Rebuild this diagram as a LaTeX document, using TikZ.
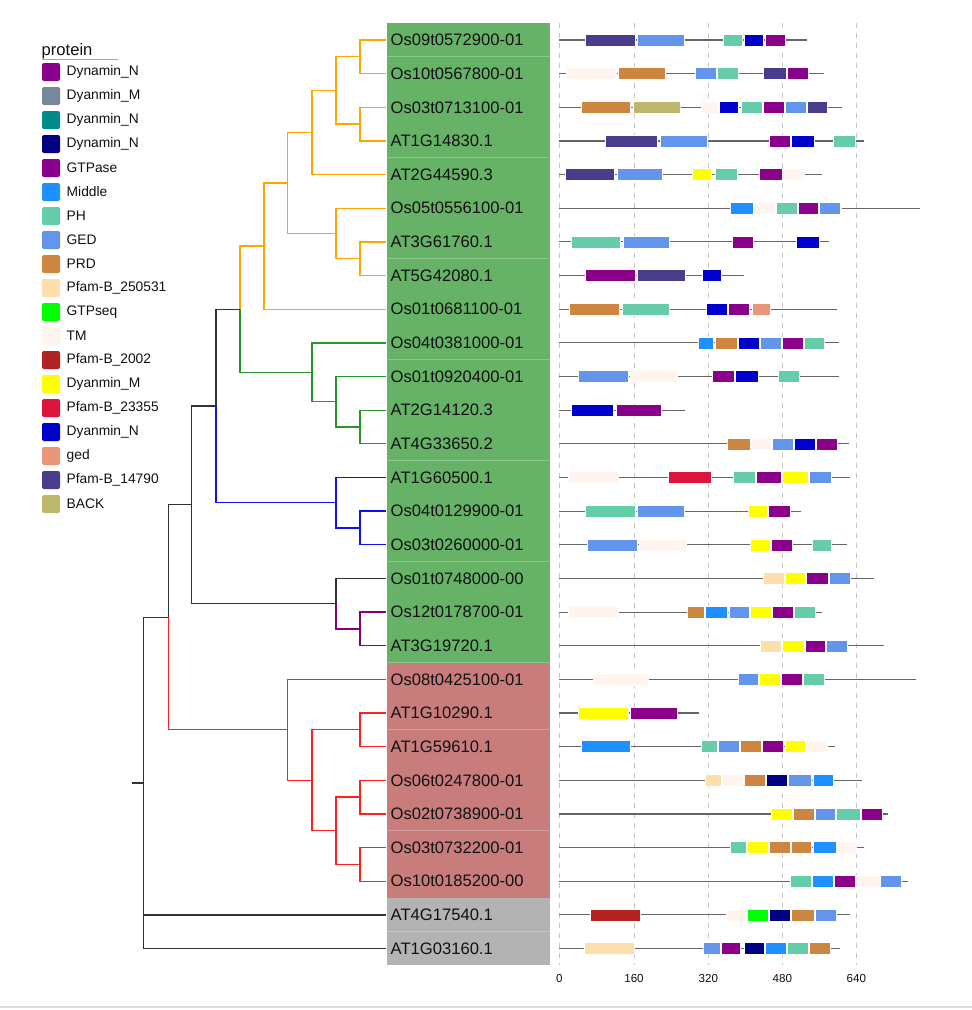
\documentclass[tikz,border=0pt]{standalone}
\usepackage{fontspec}
\setmainfont{Liberation Sans}
\definecolor{gtp}{HTML}{8B008B}
\definecolor{mid}{HTML}{1E90FF}
\definecolor{ph}{HTML}{66CDAA}
\definecolor{ged}{HTML}{6495ED}
\definecolor{prd}{HTML}{CD853F}
\definecolor{pbtf}{HTML}{FFDEAD}
\definecolor{gseq}{HTML}{00FF00}
\definecolor{tm}{HTML}{FFF5EE}
\definecolor{pbtw}{HTML}{B22222}
\definecolor{dym}{HTML}{FFFF00}
\definecolor{pbtt}{HTML}{DC143C}
\definecolor{dnb}{HTML}{0000CD}
\definecolor{gedl}{HTML}{E9967A}
\definecolor{pbft}{HTML}{483D8B}
\definecolor{back}{HTML}{BDB76B}
\definecolor{dnv}{HTML}{000080}
\definecolor{slate}{HTML}{778899}
\definecolor{dcyan}{HTML}{008B8B}
\definecolor{labgreen}{HTML}{66B266}
\definecolor{labred}{HTML}{C87C7C}
\definecolor{labgray}{HTML}{B3B3B3}
\definecolor{torange}{HTML}{FFA500}
\definecolor{tgreen}{HTML}{2A962A}
\definecolor{tblue}{HTML}{1010F0}
\definecolor{tpurple}{HTML}{800080}
\definecolor{tred}{HTML}{FF2020}
\definecolor{tblack}{HTML}{333333}
\definecolor{txt}{HTML}{111111}
\tikzset{
  bb/.style={draw=black!60,line width=1.1pt},
  dombox/.style={draw=white,line width=0.4pt},
  br/.style={line width=1.3pt},
  bor/.style={br,draw=torange},
  bgr/.style={br,draw=tgreen},
  bbl/.style={br,draw=tblue},
  bpu/.style={br,draw=tpurple},
  bre/.style={br,draw=tred},
  bbk/.style={br,draw=tblack},
  lab/.style={anchor=west,inner sep=0pt,text=txt,font=\fontsize{16.6}{18}\selectfont},
  leg/.style={anchor=west,inner sep=0pt,text=txt,font=\fontsize{13.8}{15}\selectfont},
  tick/.style={inner sep=0pt,text=txt,font=\fontsize{11.6}{13}\selectfont},
  grid/.style={draw=black!22,line width=0.9pt,dash pattern=on 5pt off 5pt}
}
\newcommand\prot[3]{%
  \pgfmathsetmacro\ry{40+(#1-1)*33.65}%
  \draw[bb] (559.3,\ry) -- ({550+#2/3},\ry);%
  \foreach \a/\b/\c in {#3}{\path[dombox,fill=\c] ({550+\a/3},{\ry-6}) rectangle ({550+\b/3},{\ry+6});}%
}
\newcommand\labrow[3]{%
  \pgfmathsetmacro\ry{40+(#1-1)*33.65}%
  \path[fill=#2] (386.7,{\ry-16.825}) rectangle (550,{\ry+16.825});%
  \draw[white,opacity=0.25,line width=0.7pt] (386.7,{\ry+16.825}) -- (550,{\ry+16.825});%
  \node[lab] (t#1) at (390.5,\ry) {#3};%
  \coordinate (L#1) at (386,\ry);%
}
\begin{document}
\begin{tikzpicture}[x=1pt,y=-1pt]
\path[fill=white,use as bounding box] (0,0) rectangle (972,1010);
% grid
\foreach \gx/\gl in {559.3/0,634/160,708.3/320,782.3/480,856.3/640}{
  \draw[grid] (\gx,23) -- (\gx,965);
  \node[tick] (tick\gl) at (\gx,978) {\gl};
}
\draw[black!13,line width=1.5pt] (0,1007) -- (972,1007);
% label column
\foreach \i/\c/\t in {1/labgreen/Os09t0572900-01,2/labgreen/Os10t0567800-01,3/labgreen/Os03t0713100-01,4/labgreen/AT1G14830.1,5/labgreen/AT2G44590.3,6/labgreen/Os05t0556100-01,7/labgreen/AT3G61760.1,8/labgreen/AT5G42080.1,9/labgreen/Os01t0681100-01,10/labgreen/Os04t0381000-01,11/labgreen/Os01t0920400-01,12/labgreen/AT2G14120.3,13/labgreen/AT4G33650.2,14/labgreen/AT1G60500.1,15/labgreen/Os04t0129900-01,16/labgreen/Os03t0260000-01,17/labgreen/Os01t0748000-00,18/labgreen/Os12t0178700-01,19/labgreen/AT3G19720.1,20/labred/Os08t0425100-01,21/labred/AT1G10290.1,22/labred/AT1G59610.1,23/labred/Os06t0247800-01,24/labred/Os02t0738900-01,25/labred/Os03t0732200-01,26/labred/Os10t0185200-00,27/labgray/AT4G17540.1,28/labgray/AT1G03160.1}{
  \labrow{\i}{\c}{\t}
}
% proteins
\prot{1}{772}{106/255/pbft, 262/404/ged, 519/576/ph, 583/641/dnb, 645/705/gtp}
\prot{2}{822}{48/198/tm, 204/346/prd, 437/499/ged, 503/565/ph, 639/709/pbft, 713/775/gtp}
\prot{3}{875}{93/242/prd, 249/390/back, 454/505/tm, 508/564/dnb, 575/637/ph, 640/703/gtp, 706/768/ged, 771/832/pbft}
\prot{4}{941}{167/323/pbft, 330/471/ged, 659/720/gtp, 723/792/dnb, 850/915/ph}
\prot{5}{815}{45/193/pbft, 201/338/ged, 427/485/dym, 495/561/ph, 628/696/gtp, 698/762/tm}
\prot{6}{1109}{541/609/mid, 613/675/tm, 678/741/ph, 744/806/gtp, 808/870/ged, 870/875/dnb}
\prot{7}{837}{63/212/ph, 219/358/ged, 547/611/gtp, 739/808/dnb}
\prot{8}{583}{107/256/gtp, 263/405/pbft, 458/515/dnb}
\prot{9}{860}{57/209/prd, 216/358/ph, 468/531/dnb, 534/597/gtp, 606/662/gedl}
\prot{10}{866}{444/491/mid, 495/562/prd, 566/627/dnb, 631/693/ged, 696/759/gtp, 762/824/ph}
\prot{11}{866}{84/234/ged, 241/381/tm, 487/553/gtp, 557/625/dnb, 684/747/ph}
\prot{12}{405}{64/191/dnb, 198/335/gtp}
\prot{13}{898}{532/600/prd, 603/665/tm, 668/730/ged, 734/796/dnb, 800/862/gtp}
\prot{14}{900}{56/204/tm, 355/485/pbtt, 549/615/ph, 618/693/gtp, 696/774/dym, 779/844/ged}
\prot{15}{754}{106/255/ph, 262/404/ged, 594/653/dym, 656/720/gtp}
\prot{16}{890}{113/262/ged, 269/410/tm, 601/660/dym, 663/727/gtp, 788/845/ph}
\prot{17}{971}{639/702/pbtf, 705/767/dym, 770/835/gtp, 839/901/ged}
\prot{18}{815}{56/204/tm, 412/463/prd, 466/533/mid, 537/598/ged, 602/664/dym, 667/729/gtp, 732/795/ph}
\prot{19}{1001}{631/693/pbtf, 696/762/dym, 765/827/gtp, 830/892/ged}
\prot{20}{1097}{130/294/tm, 564/626/ged, 629/692/dym, 695/757/gtp, 760/822/ph}
\prot{21}{448}{85/234/dym, 241/383/gtp}
\prot{22}{855}{93/242/mid, 454/502/ph, 506/568/ged, 571/634/prd, 636/701/gtp, 705/767/dym, 770/832/tm}
\prot{23}{936}{466/513/pbtf, 517/580/tm, 584/646/prd, 649/711/dnv, 714/785/ged, 789/850/mid}
\prot{24}{1014}{664/726/dym, 729/792/prd, 795/857/ged, 860/931/ph, 935/997/gtp}
\prot{25}{943}{541/588/ph, 592/654/dym, 657/720/prd, 723/785/prd, 789/858/mid, 863/920/tm}
\prot{26}{1073}{722/784/ph, 788/850/mid, 853/916/gtp, 918/990/tm, 992/1055/ged}
\prot{27}{899}{120/271/pbtw, 528/590/tm, 593/655/gseq, 659/721/dnv, 724/793/prd, 797/860/ged}
\prot{28}{870}{103/252/pbtf, 461/512/ged, 515/571/gtp, 582/644/dnv, 647/710/mid, 713/776/ph, 779/841/prd}
% tree nodes
\coordinate (n12) at (360,56.83);
\coordinate (n34) at (360,124.13);
\coordinate (n1234) at (336,90.48);
\coordinate (n15) at (312,132.54);
\coordinate (n78) at (360,258.73);
\coordinate (n678) at (336,233.49);
\coordinate (n18) at (287.5,183.01);
\coordinate (n19) at (264,246.1);
\coordinate (n1213) at (360,426.98);
\coordinate (n1113) at (336,401.74);
\coordinate (n1013) at (312,372.3);
\coordinate (n113) at (240,309.2);
\coordinate (n1516) at (360,527.93);
\coordinate (n1416) at (336,502.69);
\coordinate (n116) at (216,405.95);
\coordinate (n1819) at (360,628.88);
\coordinate (n1719) at (336,603.64);
\coordinate (n119) at (191.7,504.8);
\coordinate (n2122) at (360,729.83);
\coordinate (n2324) at (360,797.13);
\coordinate (n2526) at (360,864.43);
\coordinate (n2326) at (336,830.78);
\coordinate (n2126) at (312,780.3);
\coordinate (n2026) at (287.7,729.83);
\coordinate (n126) at (168.3,617.3);
\coordinate (root) at (143.7,782.9);
\coordinate (rootstub) at (131.7,782.9);
% orange
\foreach \p/\c in {n12/L1,n12/L2,n34/L3,n34/L4,n1234/n12,n1234/n34,n15/n1234,n15/L5,n78/L7,n78/L8,n678/L6,n678/n78,n18/n15,n18/n678,n19/n18,n19/L9,n113/n19}{\draw[bor] (\p) |- (\c);}
% green
\foreach \p/\c in {n113/n1013,n1013/L10,n1013/n1113,n1113/L11,n1113/n1213,n1213/L12,n1213/L13}{\draw[bgr] (\p) |- (\c);}
% blue
\foreach \p/\c in {n116/n1416,n1416/L14,n1416/n1516,n1516/L15,n1516/L16}{\draw[bbl] (\p) |- (\c);}
% purple
\foreach \p/\c in {n1719/n1819,n1819/L18,n1819/L19}{\draw[bpu] (\p) |- (\c);}
% red
\foreach \p/\c in {n126/n2026,n2026/L20,n2026/n2126,n2126/n2122,n2126/n2326,n2122/L21,n2122/L22,n2326/n2324,n2326/n2526,n2324/L23,n2324/L24,n2526/L25,n2526/L26}{\draw[bre] (\p) |- (\c);}
% black
\foreach \p/\c in {n116/n113,n119/n116,n119/n1719,n1719/L17,n126/n119,root/n126,root/L27,root/L28}{\draw[bbk] (\p) |- (\c);}
\draw[bbk] (rootstub) -- (root);
% legend
\node[anchor=west,inner sep=0pt,text=txt,font=\fontsize{16.6}{18}\selectfont] (legtitle) at (41.5,51) {protein};
\draw[black!35,line width=1pt] (42,59.5) -- (118,59.5);
\foreach \c/\t [count=\i] in {gtp/Dynamin\_N,slate/Dyanmin\_M,dcyan/Dyanmin\_N,dnv/Dynamin\_N,gtp/GTPase,mid/Middle,ph/PH,ged/GED,prd/PRD,pbtf/Pfam-B\_250531,gseq/GTPseq,tm/TM,pbtw/Pfam-B\_2002,dym/Dyanmin\_M,pbtt/Pfam-B\_23355,dnb/Dyanmin\_N,gedl/ged,pbft/Pfam-B\_14790,back/BACK}{
  \pgfmathsetmacro\ly{72+(\i-1)*24}
  \path[fill=\c,rounded corners=2pt] (42,{\ly-9}) rectangle (60,{\ly+9});
  \node[leg] (leg\i) at (66.5,\ly) {\t};
}
\end{tikzpicture}
\end{document}
